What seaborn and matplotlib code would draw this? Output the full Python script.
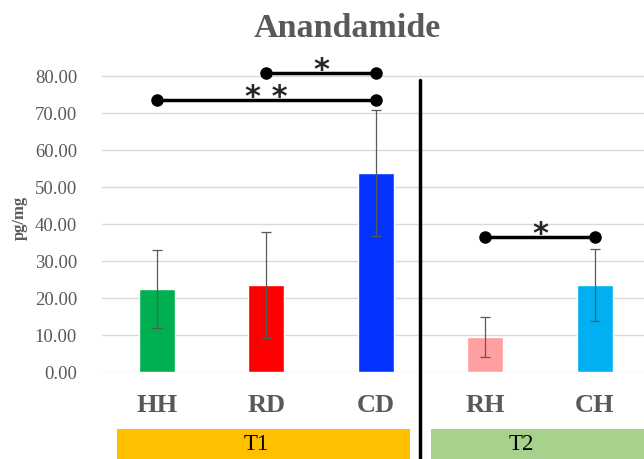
import matplotlib
matplotlib.use('Agg')
import matplotlib.pyplot as plt
import seaborn as sns
import pandas as pd
from matplotlib.patches import Rectangle

sns.set_style('white')
plt.rcParams['font.family'] = ['Liberation Serif', 'DejaVu Serif']

# ===== data =====
groups = ['HH', 'RD', 'CD', 'RH', 'CH']
means = [22.5, 23.6, 53.8, 9.5, 23.4]
errs = [10.5, 14.3, 17.0, 5.4, 9.7]
bar_colors = ['#00B050', '#FF0000', '#0433FF', '#FF9F9F', '#00B0F0']

# significance brackets: (from, to, height, label)
sig_pairs = [('RD', 'CD', 80.7, '*'), ('HH', 'CD', 73.5, '* *'), ('RH', 'CH', 36.4, '*')]

# treatment bands: (label, left edge, right edge, text x, colour)
bands = [('T1', -0.363, 2.313, 0.906, '#FFC000'),
         ('T2', 2.505, 4.6, 3.33, '#A9D18E')]

df = pd.DataFrame({'group': groups, 'mean': means, 'err': errs})

GRAY = '#595959'

fig = plt.figure(figsize=(6.44, 4.6), dpi=100)
ax = fig.add_axes([102 / 644, 87 / 460, 542 / 644, 311 / 460])

sns.barplot(data=df, x='group', y='mean', hue='group', palette=bar_colors,
            errorbar=None, width=0.33, legend=False, saturation=1, ax=ax)
ax.errorbar(range(len(groups)), means, yerr=errs, fmt='none',
            ecolor=GRAY, elinewidth=0.9, capsize=3.5, capthick=0.9)

ax.set_xlim(-0.5, 4.45)
ax.set_ylim(0, 84)
ax.set_yticks(range(0, 81, 10))
ax.set_yticklabels([f'{v:.2f}' for v in range(0, 81, 10)], fontsize=13.5, color=GRAY)
ax.yaxis.grid(True, color='#D9D9D9', lw=1)
ax.set_axisbelow(True)
ax.tick_params(axis='both', length=0)
ax.tick_params(axis='y', pad=18)
ax.tick_params(axis='x', pad=15)
for lbl in ax.get_xticklabels():
    lbl.set_fontsize(19)
    lbl.set_fontweight('bold')
    lbl.set_color(GRAY)
for s in ax.spines.values():
    s.set_visible(False)
ax.set_xlabel('')
ax.set_ylabel('pg/mg', fontsize=12, fontweight='bold', color=GRAY, labelpad=5)

fig.text(0.539, 0.937, 'Anandamide', ha='center', va='center',
         fontsize=24.5, fontweight='bold', color=GRAY)

# significance brackets
for a, b, h, lab in sig_pairs:
    xa, xb = groups.index(a), groups.index(b)
    ax.plot([xa, xb], [h, h], color='black', lw=2.5, marker='o', ms=8, clip_on=False)
    ax.text((xa + xb) / 2, h - 3.0, lab, ha='center', va='bottom',
            fontsize=22, fontweight='bold', family='DejaVu Sans')

# separator between T1 and T2
ax.plot([2.404, 2.404], [-24, 79.0], color='black', lw=2.5, clip_on=False)

# treatment bands under the axis
for lab, x0, x1, xt, col in bands:
    ax.add_patch(Rectangle((x0, -23.6), x1 - x0, 8.1, color=col, clip_on=False, lw=0))
    ax.text(xt, -19.4, lab, ha='center', va='center', fontsize=16.5, color='black')

fig.savefig('out.png', dpi=100)
plt.close()
